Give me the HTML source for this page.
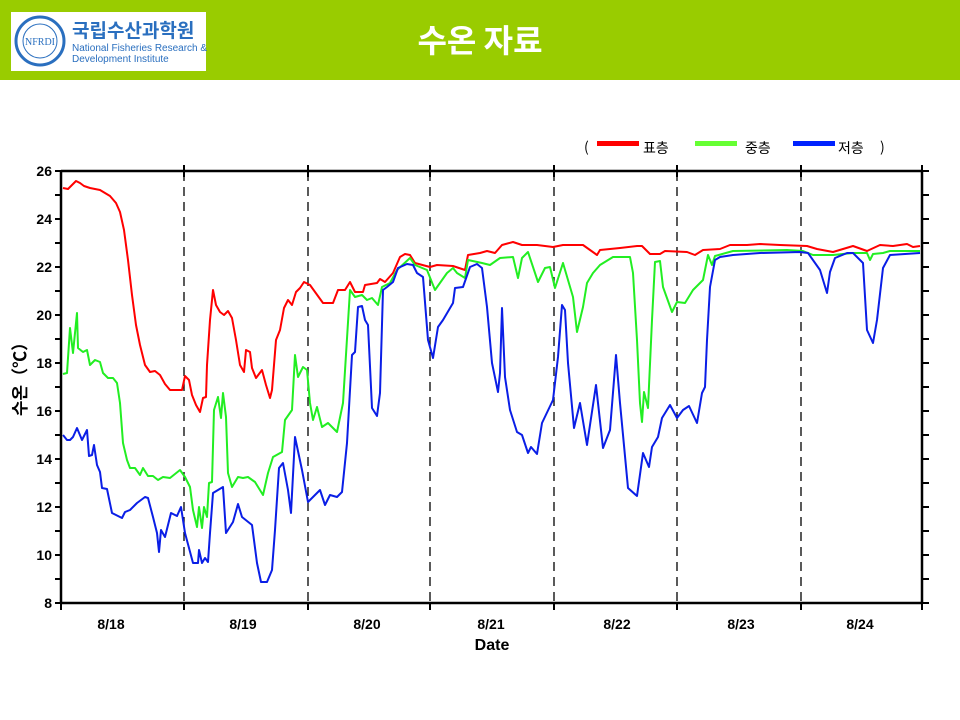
<!DOCTYPE html>
<html><head><meta charset="utf-8"><style>
body{margin:0;width:960px;height:720px;background:#fff;overflow:hidden;font-family:"Liberation Sans","Noto Sans CJK KR",sans-serif}
</style></head><body>
<svg width="960" height="720" xmlns="http://www.w3.org/2000/svg" style="position:absolute;left:0;top:0">
<rect x="0" y="0" width="960" height="80" fill="#99cc00"/>
<rect x="11" y="12" width="195" height="59" fill="#fff"/>
<circle cx="40" cy="41" r="24" fill="#fff" stroke="#2a6fbf" stroke-width="3"/>
<circle cx="40" cy="41" r="17" fill="#fff" stroke="#2a6fbf" stroke-width="1"/>
<text x="40" y="45" font-size="10" fill="#2a6fbf" text-anchor="middle" font-family="Liberation Serif,serif">NFRDI</text>
<text x="72" y="37" font-size="19" font-weight="bold" fill="#2a6fbf" font-family="'Noto Sans CJK KR',sans-serif">국립수산과학원</text>
<text x="72" y="51" font-size="10" fill="#2a6fbf">National Fisheries Research &amp;</text>
<text x="72" y="62" font-size="10" fill="#2a6fbf">Development Institute</text>
<text x="480" y="52" font-size="32" font-weight="bold" fill="#fff" text-anchor="middle" font-family="'Noto Sans CJK KR',sans-serif">수온 자료</text>

<!-- legend -->
<g font-size="14" font-family="'Noto Sans CJK KR',sans-serif" fill="#000">
<text x="584" y="152">(</text>
<rect x="597" y="141" width="42" height="5" fill="#ff0000"/>
<text x="643" y="153">표층</text>
<rect x="695" y="141" width="42" height="5" fill="#66ff33"/>
<text x="745" y="153">중층</text>
<rect x="793" y="141" width="42" height="5" fill="#0022ff"/>
<text x="838" y="153">저층</text>
<text x="880" y="152">)</text>
</g>

<!-- dashed day lines -->
<g stroke="#000" stroke-width="1.3" stroke-dasharray="9,6">
<line x1="184" y1="172" x2="184" y2="603"/>
<line x1="308" y1="172" x2="308" y2="603"/>
<line x1="430" y1="172" x2="430" y2="603"/>
<line x1="554" y1="172" x2="554" y2="603"/>
<line x1="677" y1="172" x2="677" y2="603"/>
<line x1="801" y1="172" x2="801" y2="603"/>
</g>

<g fill="none" stroke-width="2" stroke-linejoin="round">
<polyline stroke="#ff0000" points="63,188 68,189 72,185 76,181 80,183 84,186 90,188 100,190 110,196 116,203 120,212 124,230 128,260 132,295 136,325 140,345 145,365 150,372 155,371 160,375 165,384 170,390 176,390 182,390 185,376 189,380 192,395 196,405 200,412 203,398 206,397 207,365 210,320 212,300 213,290 216,305 220,312 224,315 228,311 232,318 236,340 240,365 244,372 246,350 250,352 252,368 256,378 262,370 266,385 270,398 272,390 276,340 280,330 284,308 288,300 292,305 296,292 300,288 304,282 310,285 323,303 333,303 338,290 345,290 350,282 355,292 363,292 365,285 377,283 380,279 385,282 393,273 400,257 405,254 410,255 415,263 430,267 437,265 453,266 465,270 468,255 480,253 487,251 495,253 502,245 513,242 522,245 537,245 553,247 563,245 583,245 597,255 600,250 620,248 637,246 642,246 650,254 660,254 665,251 687,252 695,255 703,250 720,249 730,245 747,245 760,244 780,245 807,246 817,249 833,252 853,246 867,251 880,245 893,246 907,244 913,247 920,246"/>
<polyline stroke="#22ee22" points="63,374 67,373 70,328 73,353 77,313 78,348 83,352 87,350 90,365 95,360 100,362 103,373 108,378 113,378 117,383 120,403 123,443 127,460 130,468 135,468 140,475 143,468 148,476 153,476 158,480 163,477 170,478 180,470 185,477 190,487 193,510 197,527 199,507 202,528 204,507 207,517 209,483 212,482 214,410 218,397 221,418 223,393 226,417 228,473 232,487 238,477 243,478 248,477 255,482 263,495 268,473 273,457 282,452 285,420 292,410 295,355 298,377 303,367 307,370 310,403 313,420 317,407 322,427 328,423 337,432 343,403 350,290 355,297 362,295 367,300 372,298 378,305 382,287 390,283 397,270 410,258 415,265 427,270 435,290 447,273 453,268 457,273 465,278 468,260 482,263 490,265 500,258 513,257 518,278 522,258 528,252 538,282 545,268 550,267 555,288 563,263 573,297 577,332 583,307 587,283 593,273 600,265 613,257 630,257 633,273 637,340 640,403 642,422 644,392 648,408 652,320 655,262 660,261 663,287 672,312 677,302 685,303 693,290 703,280 708,255 712,265 715,256 733,251 787,250 803,251 813,255 833,255 853,253 867,253 870,260 873,254 883,253 890,251 920,251"/>
<polyline stroke="#0a1ee6" points="63,435 67,440 70,440 73,437 77,428 82,440 87,430 89,456 92,455 94,445 97,465 100,472 102,488 107,489 112,513 122,518 125,512 130,510 137,503 145,497 148,498 153,517 157,533 159,552 161,530 165,537 171,513 177,516 181,507 185,533 193,563 198,563 199,550 202,563 205,558 208,562 210,533 213,493 218,490 223,487 226,533 233,522 238,504 242,517 252,525 257,563 261,582 267,582 272,570 275,530 279,468 283,463 288,490 291,513 295,437 302,470 308,502 320,490 325,505 330,495 337,497 342,492 347,443 352,355 355,352 358,307 362,306 365,320 368,325 372,408 377,416 380,393 383,290 387,287 393,282 398,268 407,264 413,265 417,273 423,277 428,340 433,358 438,327 443,320 453,303 455,288 463,287 470,267 477,264 482,268 487,307 492,363 498,392 500,373 502,308 505,377 510,410 517,432 522,435 528,453 531,447 537,454 542,423 553,400 558,357 562,305 565,310 568,363 574,428 580,403 587,445 596,385 603,448 610,430 616,355 620,403 628,488 637,496 643,453 649,467 652,447 658,437 662,418 670,405 677,418 683,410 689,406 697,423 702,393 705,387 707,340 710,287 715,260 720,257 733,255 760,253 800,252 808,253 820,270 827,293 830,272 835,258 847,253 853,253 863,263 867,330 873,343 877,320 883,268 890,255 920,253"/>
</g>

<!-- axes -->
<g stroke="#000" stroke-width="2.5" fill="none">
<line x1="61" y1="171" x2="923" y2="171"/>
<line x1="61" y1="603" x2="923" y2="603"/>
<line x1="61" y1="171" x2="61" y2="603"/>
<line x1="922" y1="171" x2="922" y2="603"/>
</g>
<g stroke="#000" stroke-width="2">
<path d="M55,171H61M55,195H61M55,219H61M55,243H61M55,267H61M55,291H61M55,315H61M55,339H61M55,363H61M55,387H61M55,411H61M55,435H61M55,459H61M55,483H61M55,507H61M55,531H61M55,555H61M55,579H61M55,603H61"/>
<path d="M922,171H929M922,195H929M922,219H929M922,243H929M922,267H929M922,291H929M922,315H929M922,339H929M922,363H929M922,387H929M922,411H929M922,435H929M922,459H929M922,483H929M922,507H929M922,531H929M922,555H929M922,579H929M922,603H929"/>
<path d="M61,603V610M184,603V610M308,603V610M430,603V610M554,603V610M677,603V610M801,603V610M922,603V610"/>
<path d="M184,165V177M308,165V177M430,165V177M554,165V177M677,165V177M801,165V177M922,165V177"/>
</g>
<g font-size="14" font-weight="bold" fill="#000" text-anchor="end">
<text x="52" y="176">26</text><text x="52" y="224">24</text><text x="52" y="272">22</text><text x="52" y="320">20</text><text x="52" y="368">18</text><text x="52" y="416">16</text><text x="52" y="464">14</text><text x="52" y="512">12</text><text x="52" y="560">10</text><text x="52" y="608">8</text>
</g>
<g font-size="14" font-weight="bold" fill="#000" text-anchor="middle">
<text x="111" y="629">8/18</text><text x="243" y="629">8/19</text><text x="367" y="629">8/20</text><text x="491" y="629">8/21</text><text x="617" y="629">8/22</text><text x="741" y="629">8/23</text><text x="860" y="629">8/24</text>
<text x="492" y="650" font-size="16">Date</text>
</g>
<text transform="translate(26,375) rotate(-90)" font-size="17" font-weight="bold" text-anchor="middle" font-family="'Noto Sans CJK KR',sans-serif">수온（℃）</text>
</svg>
</body></html>
